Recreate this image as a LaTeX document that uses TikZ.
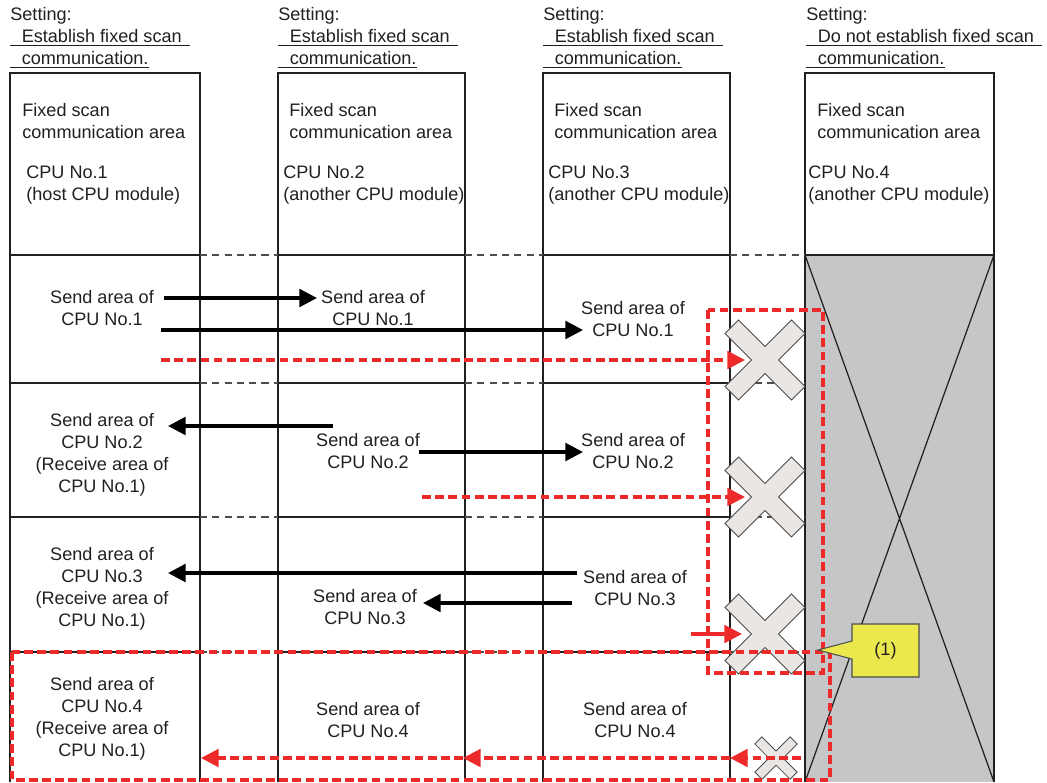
\documentclass[tikz,border=0pt]{standalone}
\usepackage{fontspec}
\setmainfont{Liberation Sans}
\usetikzlibrary{arrows.meta, calc}
\definecolor{ctext}{HTML}{231F20}
\definecolor{cred}{HTML}{EC2A2A}
\definecolor{cgrey}{HTML}{4D4D4D}
\definecolor{cshade}{HTML}{C5C6C8}
\definecolor{cxfill}{HTML}{E9E6E4}
\definecolor{cyellow}{HTML}{EBE84E}
\newcommand{\ulset}[1]{\underline{\hspace{6.5pt}#1\hspace{4.5pt}}}
\newcommand{\ullast}[1]{\underline{\hspace{6.5pt}#1}}
\tikzset{
  every picture/.style={font=\fontsize{10.3}{12.5}\selectfont},
  colline/.style={draw=ctext, line width=0.9pt},
  gapline/.style={draw=cgrey, line width=0.6pt, dash pattern=on 4pt off 3pt},
  hdr/.style={align=left, inner sep=0pt, anchor=north west, text=ctext},
  sendtxt/.style={align=center, inner sep=0pt, text=ctext},
  arrow/.style={-{Triangle[length=10pt, width=10pt]}, draw=black, line width=1.9pt},
  redarrow/.style={-{Triangle[length=10pt, width=10pt]}, draw=cred, line width=1.8pt, dash pattern=on 5pt off 2.5pt},
  redsolid/.style={-{Triangle[length=10pt, width=10pt]}, draw=cred, line width=1.8pt},
  redbox/.style={draw=cred, line width=1.8pt, dash pattern=on 5pt off 2.5pt},
  pics/crossmark/.style={code={
    \draw[draw=cgrey, fill=cxfill, line width=0.5pt, rotate=45]
      (-9.5,47) -- (9.5,47) -- (9.5,9.5) -- (47,9.5) -- (47,-9.5) -- (9.5,-9.5)
      -- (9.5,-47) -- (-9.5,-47) -- (-9.5,-9.5) -- (-47,-9.5) -- (-47,9.5) -- (-9.5,9.5) -- cycle;
    \coordinate (-c) at (0,0);
  }},
}

\begin{document}
\begin{tikzpicture}[x=0.02cm, y=-0.02cm]
  \useasboundingbox (0,0) rectangle (1047,782);
  % CPU No.4 column, no fixed scan
  \fill[cshade] (805,255) rectangle (994,782);
  \draw[ctext, line width=0.7pt] (805,255) -- (994,782) (994,255) -- (805,782);
  % columns and rows
  \foreach \l/\r in {10/200, 278/465, 543/730, 805/994} {
    \draw[colline] (\l,782) -- (\l,73) -- (\r,73) -- (\r,782);
    \draw[colline] (\l,255) -- (\r,255);
  }
  \foreach \y in {383, 517, 652} {
    \foreach \l/\r in {10/200, 278/465, 543/730}
      \draw[colline] (\l,\y) -- (\r,\y);
  }
  \foreach \y in {255, 383, 517, 652} {
    \foreach \l/\r in {200/278, 465/543, 730/805}
      \draw[gapline] (\l,\y) -- (\r,\y);
  }

  % settings
  \node[hdr] (set1) at (10,7) {Setting:\\\ulset{Establish fixed scan}\\\ullast{communication.}};
  \node[hdr] (set2) at (278,7) {Setting:\\\ulset{Establish fixed scan}\\\ullast{communication.}};
  \node[hdr] (set3) at (543,7) {Setting:\\\ulset{Establish fixed scan}\\\ullast{communication.}};
  \node[hdr] (set4) at (806,7) {Setting:\\\ulset{Do not establish fixed scan}\\\ullast{communication.}};

  % column heads
  \node[hdr] (area1) at (22,103.5) {Fixed scan\\communication area};
  \node[hdr] (cpu1) at (26,165.5) {CPU No.1\\(host CPU module)};
  \node[hdr] (area2) at (289,103.5) {Fixed scan\\communication area};
  \node[hdr] (cpu2) at (283,165.5) {CPU No.2\\(another CPU module)};
  \node[hdr] (area3) at (554,103.5) {Fixed scan\\communication area};
  \node[hdr] (cpu3) at (548,165.5) {CPU No.3\\(another CPU module)};
  \node[hdr] (area4) at (817,103.5) {Fixed scan\\communication area};
  \node[hdr] (cpu4) at (808,165.5) {CPU No.4\\(another CPU module)};

  % send areas
  \node[sendtxt] (s11) at (102,308) {Send area of\\CPU No.1};
  \node[sendtxt] (s21) at (373,308) {Send area of\\CPU No.1};
  \node[sendtxt] (s31) at (633,319) {Send area of\\CPU No.1};
  \node[sendtxt] (s12) at (102,455) {Send area of\\CPU No.2\\(Receive area of\\CPU No.1)};
  \node[sendtxt] (s22) at (368,451) {Send area of\\CPU No.2};
  \node[sendtxt] (s32) at (633,451) {Send area of\\CPU No.2};
  \node[sendtxt] (s13) at (102,589) {Send area of\\CPU No.3\\(Receive area of\\CPU No.1)};
  \node[sendtxt] (s23) at (365,607) {Send area of\\CPU No.3};
  \node[sendtxt] (s33) at (635,588) {Send area of\\CPU No.3};
  \node[sendtxt] (s14) at (102,719) {Send area of\\CPU No.4\\(Receive area of\\CPU No.1)};
  \node[sendtxt] (s24) at (368,720) {Send area of\\CPU No.4};
  \node[sendtxt] (s34) at (635,720) {Send area of\\CPU No.4};

  % blocked transfers
  \pic (x1) at (765,360) {crossmark};
  \pic (x2) at (765,497) {crossmark};
  \pic (x3) at (765,634) {crossmark};
  \pic[scale=0.53] (x4) at (776,758) {crossmark};

  \draw[arrow] ($(s11)+(62,-10)$) -- ($(s21)+(-56,-10)$);
  \draw[arrow] ($(s11)+(59,22)$) -- ($(s31)+(-50,11)$);
  \draw[redarrow] ($(s11)+(59,52)$) -- ($(x1-c)+(-20,0)$);
  \draw[arrow] ($(s22)+(-35,-25)$) -- ($(s12)+(66,-29)$);
  \draw[arrow] ($(s22)+(51,1)$) -- ($(s32)+(-50,1)$);
  \draw[redarrow] ($(s22)+(54,46)$) -- ($(x2-c)+(-20,0)$);
  \draw[arrow] ($(s33)+(-58,-15)$) -- ($(s13)+(66,-16)$);
  \draw[arrow] ($(s33)+(-63,15)$) -- ($(s23)+(58,-4)$);
  \coordinate (r3) at (691,634);
  \draw[redsolid] (r3) -- ($(x3-c)+(-23,0)$);
  \draw[redarrow] ($(x4-c)+(25,0)$) -- ($(s34)+(95,38)$);
  \draw[redarrow] ($(s34)+(95,38)$) -- ($(s24)+(95,38)$);
  \draw[redarrow] ($(s24)+(95,38)$) -- ($(s14)+(99,39)$);

  % (1)
  \draw[redbox] (708,310) rectangle (823,673);
  \draw[redbox] (12,652) rectangle (830,780);
  \draw[draw=cgrey, fill=cyellow, line width=0.6pt] (852,624) -- (919,624) -- (919,677) -- (852,677)
    -- (852,659) -- (818,650) -- (852,641) -- cycle;
  \node[sendtxt] (c1) at (885.5,650.5) {(1)};
\end{tikzpicture}
\end{document}
